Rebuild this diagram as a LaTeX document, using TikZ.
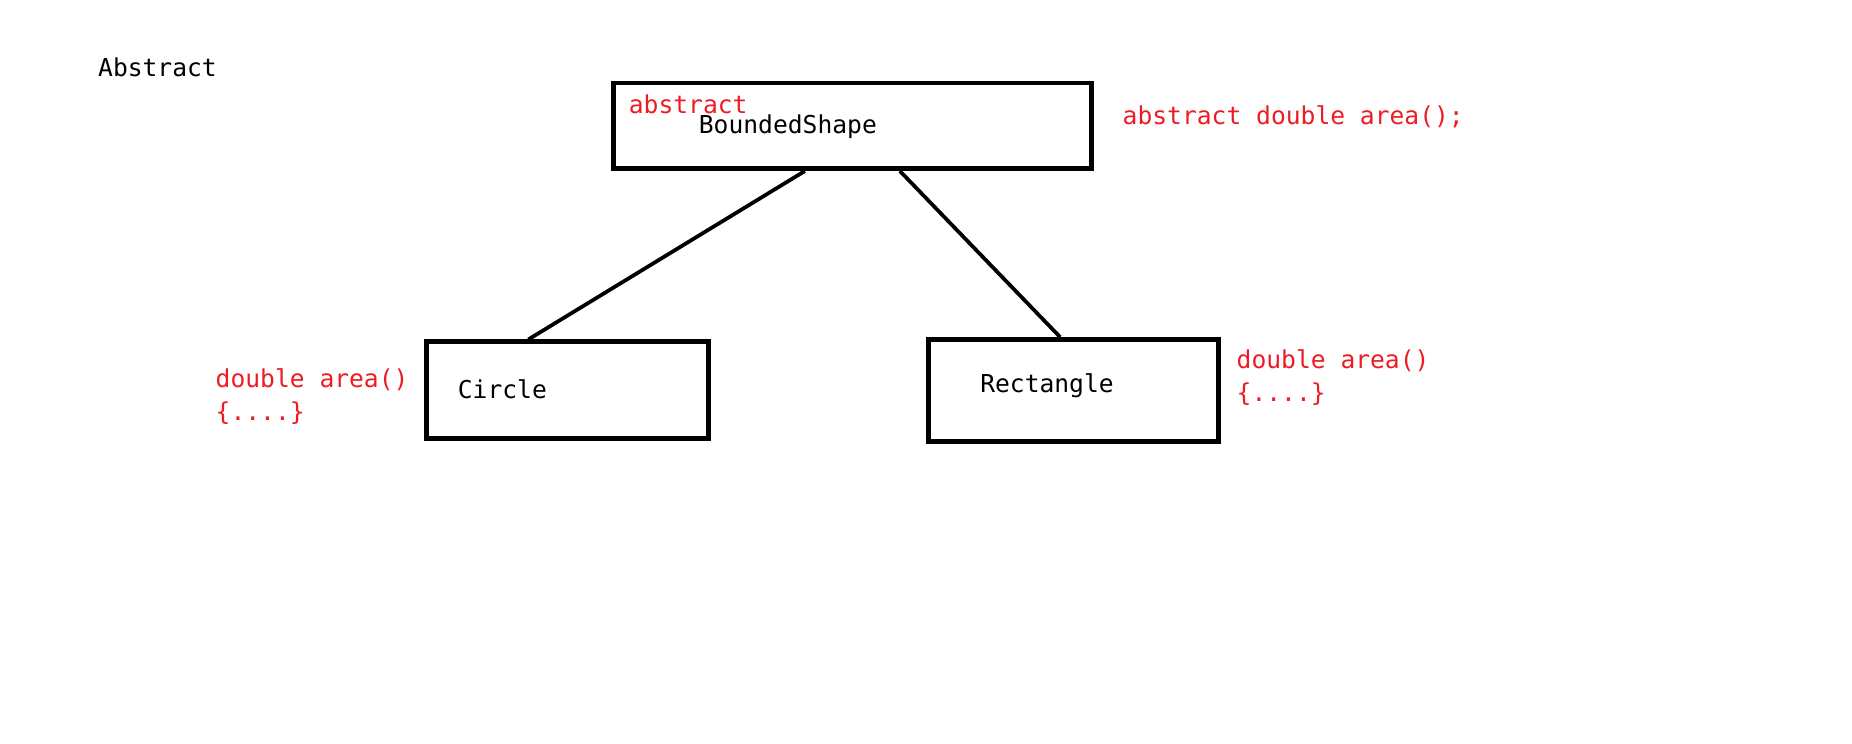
\documentclass[tikz,border=0pt]{standalone}
\usepackage{fontspec}
\setmonofont{DejaVu Sans Mono}
\usepackage{tikz}
\usetikzlibrary{positioning,calc}
\definecolor{paintred}{RGB}{237,28,36}

\begin{document}
\begin{tikzpicture}[x=0.01cm, y=-0.01cm,
	txt/.style={anchor=west, inner sep=0pt, font=\ttfamily\fontsize{5.9}{7}\selectfont},
	red/.style={txt, text=paintred},
	classbox/.style={draw, line width=1.15pt, inner sep=0pt}]
	\useasboundingbox (0,0) rectangle (1560,626);
	\node[txt] (abs) at (82,57) {Abstract};
	\node[classbox, minimum width=4.02cm, minimum height=0.72cm] (bounded) at (718,106) {};
	\node[red] (abskw) at (529,88) {abstract};
	\node[txt] (bname) at (588,107) {BoundedShape};
	\node[red] (absm) at (945,98) {abstract double area();};
	\node[classbox, minimum width=2.38cm, minimum height=0.81cm] (circ) at (478,328.5) {};
	\node[txt] (cname) at (385,328) {Circle};
	\node[red, align=left] (carea) at (181,334) {double area()\\[1pt]\{....\}};
	\node[classbox, minimum width=2.44cm, minimum height=0.86cm] (rect) at (904,329) {};
	\node[txt] (rname) at (825,325) {Rectangle};
	\node[red, align=left] (rarea) at (1041,318) {double area()\\[1pt]\{....\}};
	\draw[line width=0.9pt] ([xshift=-0.4cm]bounded.south) -- ([xshift=-0.33cm]circ.north);
	\draw[line width=0.9pt] ([xshift=0.4cm]bounded.south) -- ([xshift=-0.11cm]rect.north);
\end{tikzpicture}
\end{document}
